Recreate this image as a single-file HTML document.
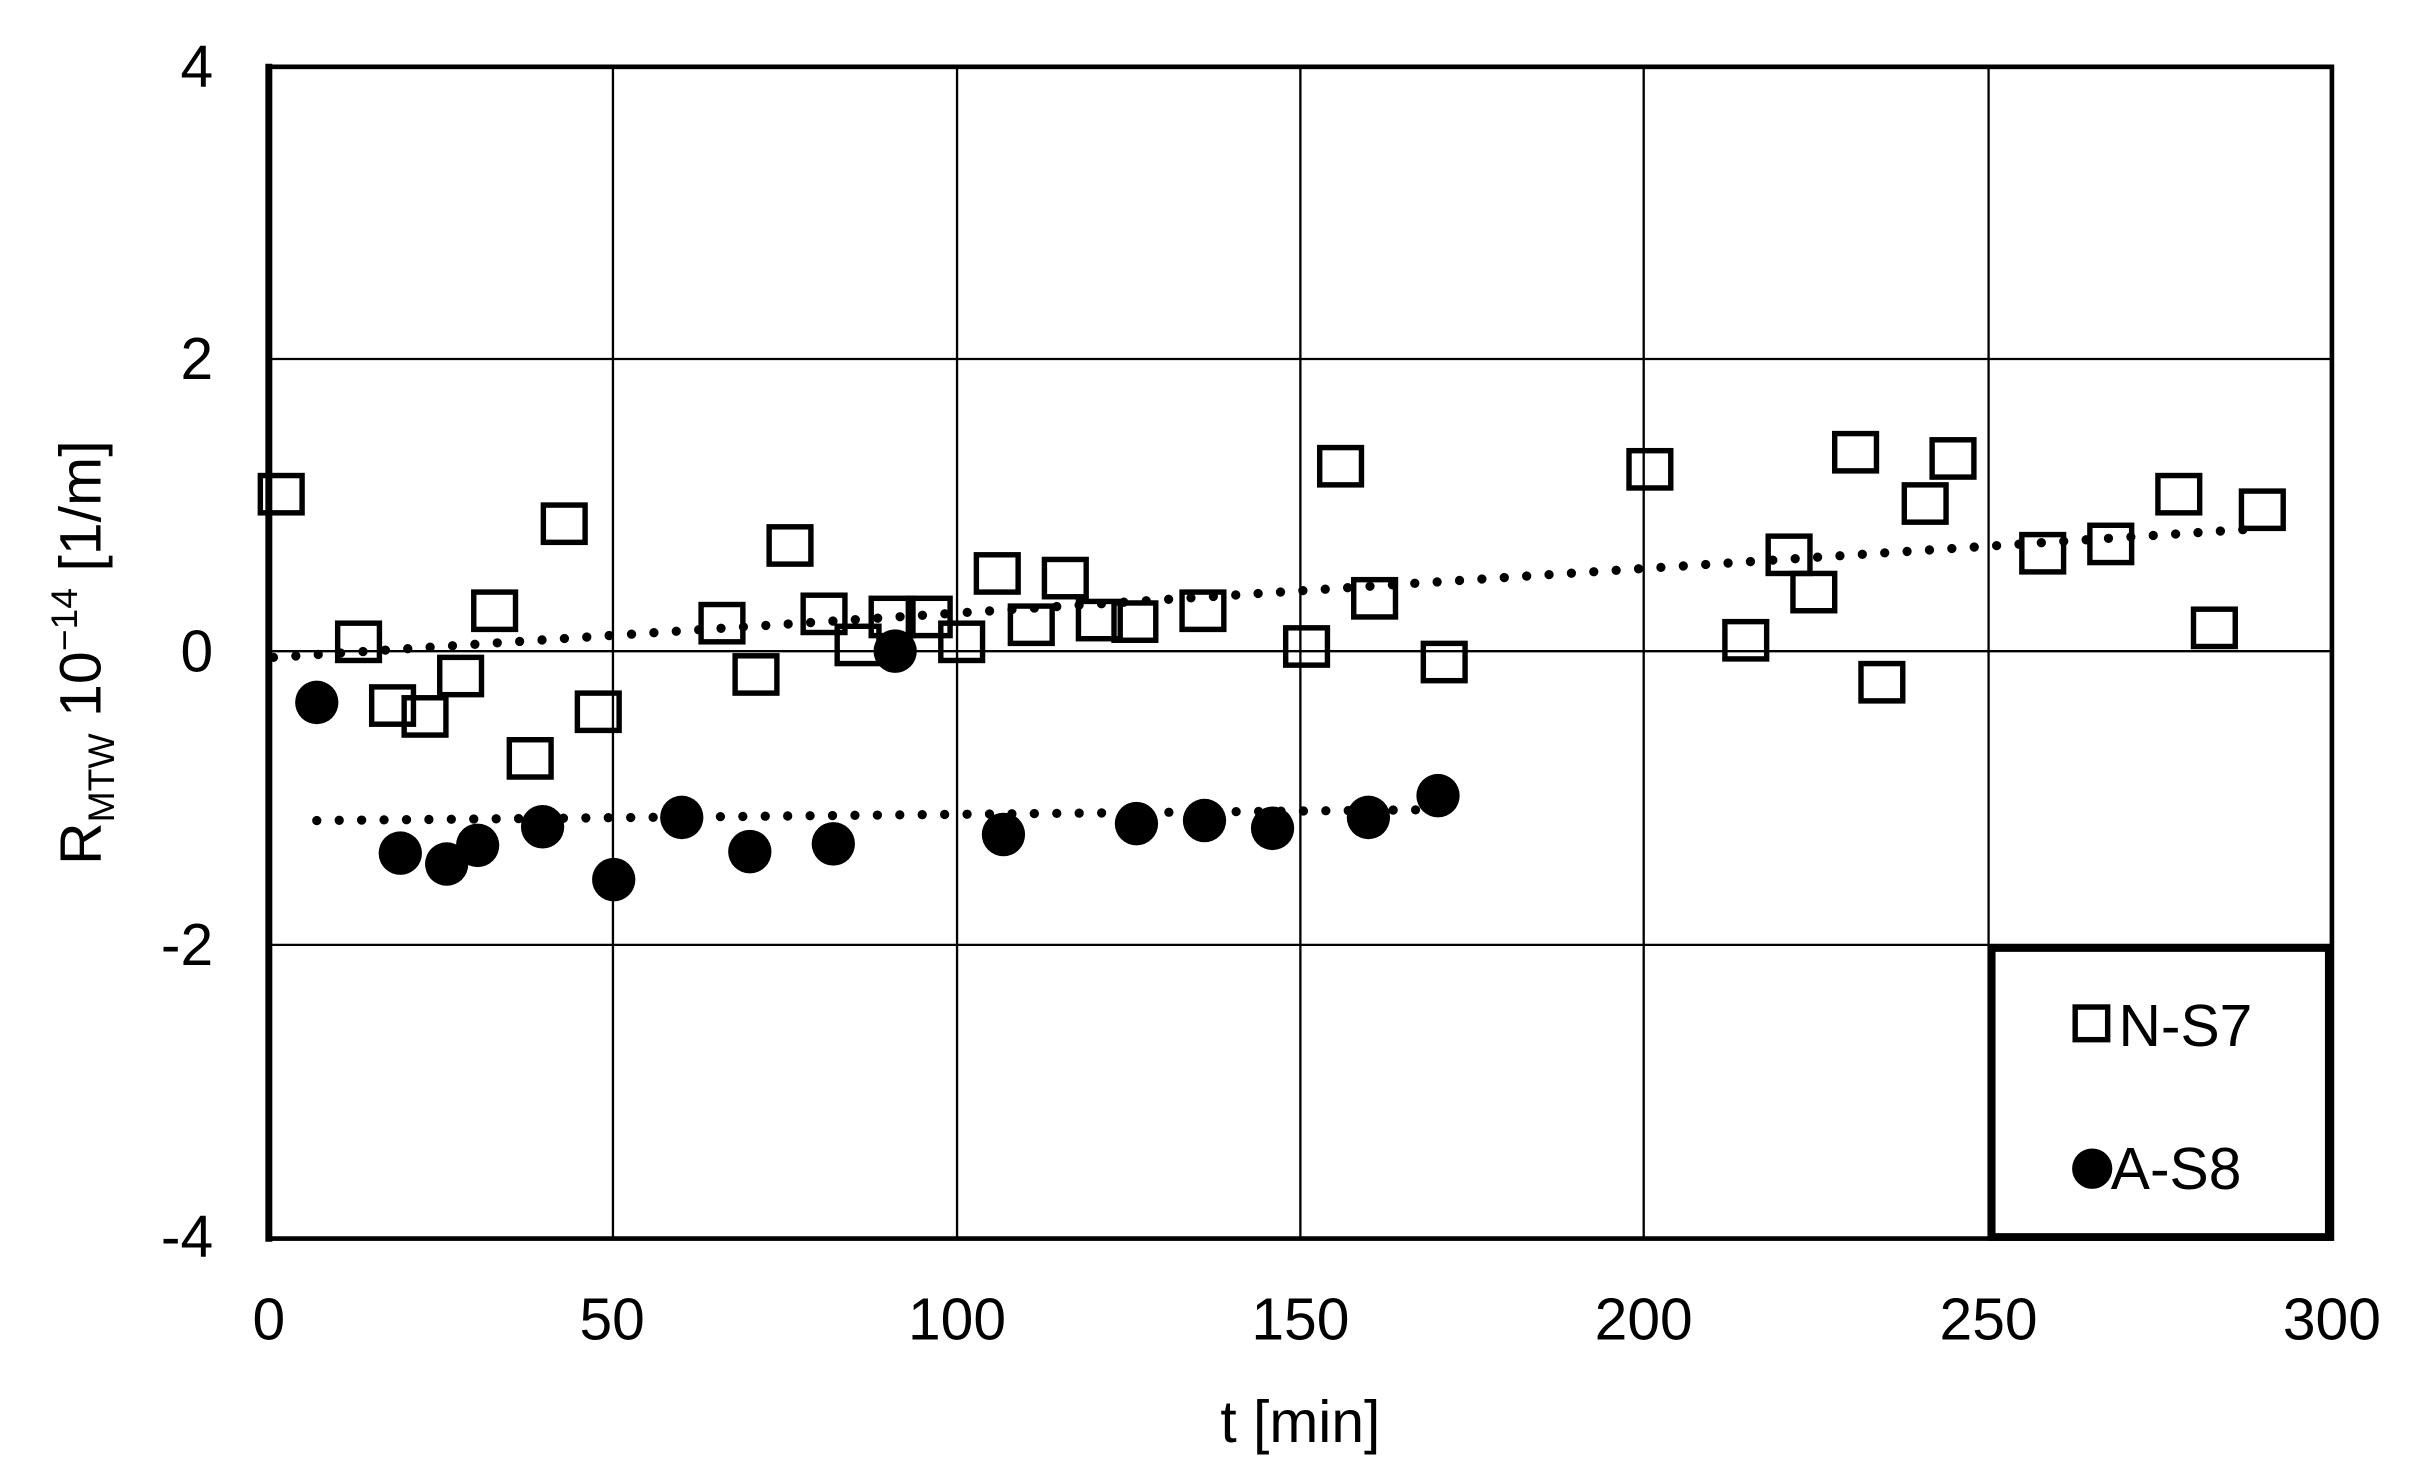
<!DOCTYPE html>
<html><head><style>html,body{margin:0;padding:0;background:#fff}svg{display:block}</style></head>
<body>
<svg width="2425" height="1472" viewBox="0 0 1560.5 947.2" preserveAspectRatio="none" xmlns="http://www.w3.org/2000/svg" font-family="Liberation Sans, Arial, sans-serif">
<rect width="1560.5" height="947.2" fill="#fff"/>
<g transform="translate(173,0) scale(0.9952,1) translate(-173,0)">
<g stroke="#000" stroke-width="1.5">
<line x1="395.5" y1="43" x2="395.5" y2="797"/>
<line x1="618" y1="43" x2="618" y2="797"/>
<line x1="840" y1="43" x2="840" y2="797"/>
<line x1="1062" y1="43" x2="1062" y2="797"/>
<line x1="1285" y1="43" x2="1285" y2="797"/>
<line x1="173" y1="231" x2="1507" y2="231"/>
<line x1="173" y1="419" x2="1507" y2="419"/>
<line x1="173" y1="608" x2="1507" y2="608"/>
</g>
<rect x="173" y="43" width="1334" height="754" fill="none" stroke="#000" stroke-width="3"/>
<line x1="173" y1="41" x2="173" y2="799" stroke="#000" stroke-width="4.5"/>
<g fill="#000" font-size="38" text-anchor="end">
<text x="137" y="56">4</text><text x="137" y="244">2</text><text x="137" y="432">0</text><text x="137" y="621">-2</text><text x="137" y="809">-4</text>
</g>
<g fill="#000" font-size="38" text-anchor="middle">
<text x="173" y="862">0</text><text x="395" y="862">50</text><text x="618" y="862">100</text><text x="840" y="862">150</text><text x="1062" y="862">200</text><text x="1285" y="862">250</text><text x="1507" y="862">300</text>
<text x="840" y="928">t [min]</text>
</g>
<text transform="translate(64,420) rotate(-90)" text-anchor="middle" font-size="38" fill="#000">R<tspan font-size="24" dy="9">MTW</tspan><tspan dy="-9"> 10</tspan><tspan font-size="24" dy="-15">−14</tspan><tspan dy="15"> [1/m]</tspan></text>
<g stroke="#000" stroke-width="6" stroke-linecap="round" stroke-dasharray="0 14.5" fill="none">
<line x1="176" y1="423" x2="1462" y2="340"/>
<line x1="204" y1="528" x2="929" y2="521"/>
</g>
<g fill="none" stroke="#000" stroke-width="3.5">
<rect x="167.5" y="306" width="27" height="24"/><rect x="217.5" y="401" width="27" height="24"/><rect x="239.5" y="442" width="27" height="24"/><rect x="260.5" y="449" width="27" height="24"/><rect x="283.5" y="423" width="27" height="24"/><rect x="305.5" y="381" width="27" height="24"/><rect x="328.5" y="476" width="27" height="24"/><rect x="350.5" y="325" width="27" height="24"/><rect x="372.5" y="446" width="27" height="24"/><rect x="452.5" y="389" width="27" height="24"/><rect x="474.5" y="422" width="27" height="24"/><rect x="496.5" y="339" width="27" height="24"/><rect x="518.5" y="383" width="27" height="24"/><rect x="540.5" y="403" width="27" height="24"/><rect x="562.5" y="385" width="27" height="24"/><rect x="586.5" y="385" width="27" height="24"/><rect x="607.5" y="401" width="27" height="24"/><rect x="630.5" y="357" width="27" height="24"/><rect x="652.5" y="390" width="27" height="24"/><rect x="674.5" y="360" width="27" height="24"/><rect x="696.5" y="387" width="27" height="24"/><rect x="719.5" y="388" width="27" height="24"/><rect x="763.5" y="381" width="27" height="24"/><rect x="830.5" y="404" width="27" height="24"/><rect x="852.5" y="288" width="27" height="24"/><rect x="874.5" y="373" width="27" height="24"/><rect x="919.5" y="414" width="27" height="24"/><rect x="1052.5" y="290" width="27" height="24"/><rect x="1114.5" y="400" width="27" height="24"/><rect x="1142.5" y="345" width="27" height="24"/><rect x="1158.5" y="369" width="27" height="24"/><rect x="1185.5" y="279" width="27" height="24"/><rect x="1202.5" y="427" width="27" height="24"/><rect x="1230.5" y="312" width="27" height="24"/><rect x="1248.5" y="283" width="27" height="24"/><rect x="1306.5" y="344" width="27" height="24"/><rect x="1350.5" y="338" width="27" height="24"/><rect x="1394.5" y="306" width="27" height="24"/><rect x="1417.5" y="392" width="27" height="24"/><rect x="1448.5" y="316" width="27" height="24"/>
</g>
<g fill="#000">
<circle cx="204" cy="452" r="14"/><circle cx="258" cy="549" r="14"/><circle cx="288" cy="556" r="14"/><circle cx="308" cy="544" r="14"/><circle cx="350" cy="532" r="14"/><circle cx="396" cy="566" r="14"/><circle cx="440" cy="526" r="14"/><circle cx="484" cy="548" r="14"/><circle cx="538" cy="543" r="14"/><circle cx="578" cy="419" r="14"/><circle cx="648" cy="537" r="14"/><circle cx="734" cy="530" r="14"/><circle cx="778" cy="528" r="14"/><circle cx="822" cy="533" r="14"/><circle cx="884" cy="526" r="14"/><circle cx="929" cy="512" r="14"/>
</g>
<rect x="1287" y="610" width="218" height="186" fill="#fff" stroke="#000" stroke-width="5"/>
<rect x="1341" y="648" width="21" height="21" fill="none" stroke="#000" stroke-width="3.5"/>
<circle cx="1352" cy="752" r="13" fill="#000"/>
<g font-size="38" fill="#000"><text x="1369" y="673">N-S7</text><text x="1364" y="765">A-S8</text></g>
</g>
</svg>
</body></html>
